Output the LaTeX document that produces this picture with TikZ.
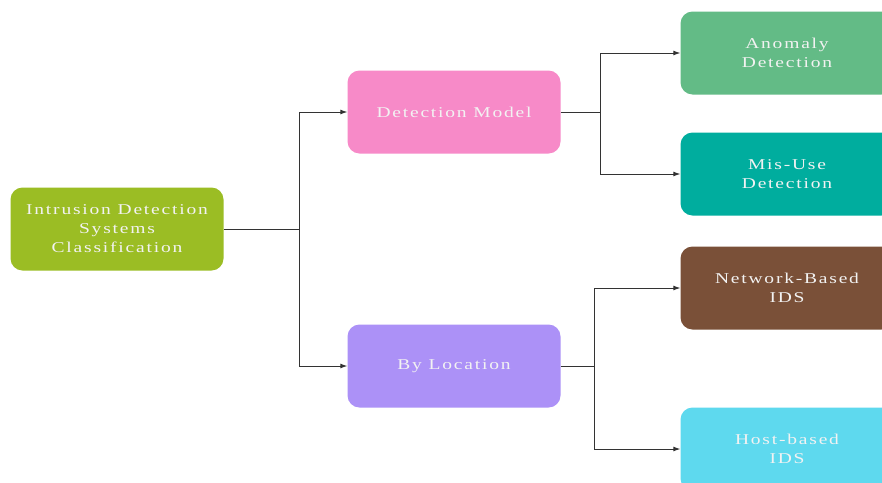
\documentclass[tikz,border=0pt]{standalone}
\usepackage{fontspec}
\setmainfont{Liberation Serif}
\newfontfamily\boxfont[FakeStretch=1.3,LetterSpace=12]{Liberation Serif}
\usetikzlibrary{arrows.meta}
\definecolor{rootc}{HTML}{9BBD24}
\definecolor{modelc}{HTML}{F78AC8}
\definecolor{locc}{HTML}{AC91F7}
\definecolor{anomc}{HTML}{63BB86}
\definecolor{misc}{HTML}{00AD9E}
\definecolor{netc}{HTML}{7A5038}
\definecolor{hostc}{HTML}{5ED9EE}
\definecolor{linec}{HTML}{333333}
\tikzset{
  box/.style={rounded corners=12pt, minimum width=213pt, minimum height=83pt,
    text=white!95!black, align=center, font=\boxfont\fontsize{15}{19}\selectfont,
    inner sep=0pt},
  link/.style={draw=linec, line width=0.9pt},
  arrowlink/.style={link, -{Latex[length=7pt,width=5pt]}}
}
\begin{document}
\begin{tikzpicture}[x=1pt,y=-1pt]
  \useasboundingbox (0,0) rectangle (882,482);
  \clip (0,0) rectangle (882,482);
  \fill[white] (0,0) rectangle (882,482);

  % tree nodes
  \node[box, fill=rootc]  (root) at (117,229) {Intrusion Detection\\Systems\\Classification};
  \node[box, fill=modelc] (model) at (454,112) {Detection Model};
  \node[box, fill=locc]   (loc) at (454,366) {By Location};
  \node[box, fill=anomc]  (anom) at (787,53) {Anomaly\\Detection};
  \node[box, fill=misc]   (mis) at (787,174) {Mis-Use\\Detection};
  \node[box, fill=netc]   (net) at (787,288) {Network-Based\\IDS};
  \node[box, fill=hostc]  (host) at (787,449) {Host-based\\IDS};

  % elbow junctions
  \coordinate (j1) at (299,229);
  \coordinate (j2) at (600,112);
  \coordinate (j3) at (594,366);

  % connectors
  \draw[link] (root.east) -- (j1);
  \draw[arrowlink] (j1) |- (model.west);
  \draw[arrowlink] (j1) |- (loc.west);
  \draw[link] (model.east) -- (j2);
  \draw[arrowlink] (j2) |- (anom.west);
  \draw[arrowlink] (j2) |- (mis.west);
  \draw[link] (loc.east) -- (j3);
  \draw[arrowlink] (j3) |- (net.west);
  \draw[arrowlink] (j3) |- (host.west);
\end{tikzpicture}
\end{document}
